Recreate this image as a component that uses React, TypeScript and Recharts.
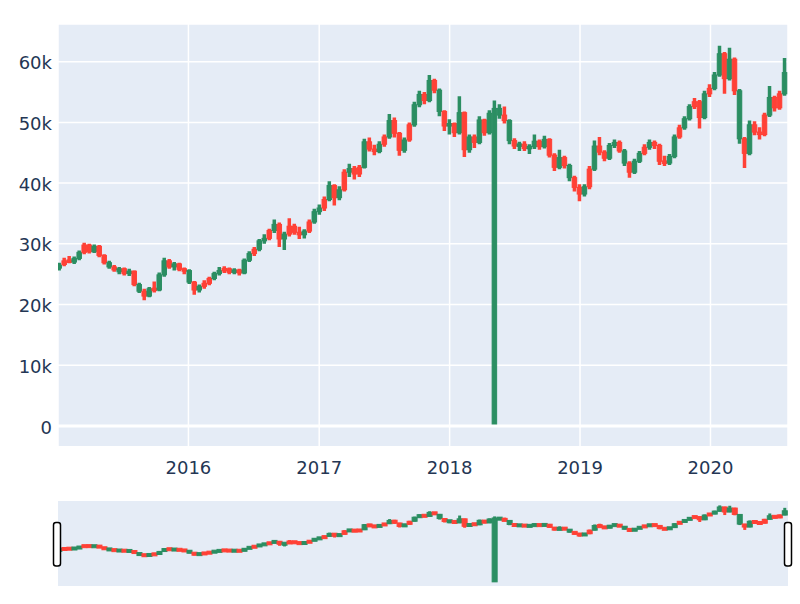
import React from 'react';
import { ComposedChart, Bar, XAxis, YAxis, CartesianGrid, ReferenceLine } from 'recharts';

// Biweekly candles starting 2015-01-05 (values in thousands)
const START_DATE = '2015-01-05';
const STEP_DAYS = 14;

const opens = [
  26.0, 27.2, 27.3, 27.0, 27.6, 29.8, 29.8, 28.7, 29.6, 28.1,
  26.2, 26.2, 25.4, 25.9, 25.1, 25.5, 22.2, 22.2, 21.4, 22.6,
  22.4, 24.9, 27.2, 26.2, 26.7, 25.8, 23.7, 23.7, 22.4, 23.5,
  24.3, 24.3, 25.1, 25.9, 25.9, 25.3, 25.7, 25.2, 27.3, 29.1,
  29.1, 30.5, 32.2, 32.2, 33.2, 30.8, 32.9, 32.9, 31.9, 31.5,
  33.6, 33.6, 35.3, 37.3, 37.3, 39.6, 37.6, 41.8, 41.8, 42.4,
  42.6, 42.6, 46.8, 45.6, 45.2, 47.6, 47.6, 50.3, 48.2, 45.4,
  49.6, 49.6, 52.9, 54.6, 53.6, 56.9, 51.8, 51.8, 49.4, 49.8,
  48.3, 51.6, 45.5, 47.6, 46.7, 50.4, 48.3, 0.0, 51.2, 51.2,
  47.0, 47.0, 46.1, 46.4, 45.7, 46.0, 46.9, 46.0, 47.2, 44.6,
  42.6, 44.2, 40.9, 40.9, 39.3, 38.2, 42.3, 42.3, 46.1, 45.1,
  44.1, 46.2, 46.7, 43.3, 43.3, 41.8, 43.6, 45.9, 45.9, 46.7,
  46.2, 43.6, 43.3, 44.4, 49.1, 49.1, 50.6, 53.4, 53.4, 50.8,
  55.6, 55.6, 57.8, 61.3, 57.2, 60.4, 47.3, 47.3, 44.9, 49.6,
  48.4, 51.2, 51.2, 54.1, 54.7, 54.7,
];
const highs = [
  26.9, 27.7, 28.0, 27.9, 28.9, 30.2, 30.0, 29.9, 29.8, 28.3,
  27.2, 26.5, 26.2, 26.1, 25.9, 25.6, 23.6, 22.6, 22.9, 23.8,
  25.3, 27.7, 27.5, 27.0, 26.9, 26.1, 25.8, 23.9, 23.3, 24.0,
  24.6, 25.4, 26.2, 26.3, 26.1, 26.0, 25.9, 27.6, 28.8, 29.5,
  30.8, 31.6, 32.5, 34.0, 33.5, 32.0, 34.2, 33.3, 32.8, 32.4,
  34.0, 35.8, 36.5, 37.8, 40.3, 39.8, 39.5, 42.3, 43.2, 42.8,
  43.0, 47.3, 47.5, 46.3, 46.9, 48.0, 51.4, 50.8, 48.4, 47.5,
  50.0, 53.4, 55.2, 55.0, 57.8, 57.2, 55.6, 52.0, 50.5, 50.0,
  54.3, 51.8, 48.0, 48.0, 51.0, 50.6, 52.0, 53.6, 53.0, 52.6,
  50.5, 47.4, 46.8, 46.9, 46.4, 48.0, 47.2, 47.8, 47.4, 44.9,
  45.5, 44.5, 43.2, 41.2, 39.8, 39.8, 42.8, 47.0, 47.6, 45.4,
  46.6, 47.2, 47.0, 45.6, 43.6, 44.0, 45.3, 46.4, 47.2, 47.0,
  46.5, 44.5, 44.8, 48.0, 49.6, 51.0, 53.0, 54.0, 53.7, 55.2,
  56.3, 58.3, 62.6, 61.6, 62.3, 60.7, 55.5, 47.6, 50.3, 50.2,
  49.2, 51.6, 56.0, 54.4, 55.2, 60.6,
];
const lows = [
  25.6, 26.3, 26.8, 26.7, 27.3, 28.3, 28.4, 28.5, 27.8, 26.6,
  25.9, 25.4, 25.0, 24.8, 24.7, 23.0, 21.9, 20.7, 21.2, 22.0,
  22.2, 24.6, 25.9, 25.6, 25.5, 25.0, 23.4, 21.6, 22.0, 22.6,
  23.2, 24.0, 24.8, 25.2, 25.0, 25.0, 24.8, 25.0, 27.0, 28.0,
  28.8, 30.0, 30.6, 31.8, 29.5, 29.0, 31.2, 31.5, 30.8, 30.9,
  31.8, 33.3, 34.8, 35.4, 37.0, 36.3, 37.2, 38.6, 41.0, 40.6,
  41.0, 42.4, 45.2, 44.6, 44.9, 46.0, 47.3, 47.5, 44.5, 45.0,
  46.8, 49.3, 52.5, 53.0, 53.3, 54.8, 51.0, 48.6, 48.0, 47.6,
  48.0, 44.3, 45.0, 45.8, 46.4, 47.8, 48.0, 0.0, 50.6, 49.8,
  46.4, 45.6, 45.3, 45.3, 44.8, 45.6, 45.5, 45.7, 44.2, 42.0,
  42.3, 42.4, 40.3, 38.6, 37.0, 37.8, 39.0, 42.0, 44.6, 43.6,
  43.8, 45.8, 45.0, 42.8, 40.9, 41.5, 43.3, 44.6, 45.5, 45.6,
  43.0, 42.8, 43.0, 44.1, 47.3, 48.8, 50.3, 52.2, 49.0, 50.5,
  54.2, 55.3, 57.5, 54.7, 56.9, 54.5, 46.5, 42.5, 44.6, 47.9,
  47.2, 47.7, 50.9, 51.8, 52.1, 54.4,
];
const closes = [
  26.5, 26.6, 27.0, 27.6, 28.6, 28.6, 28.7, 29.6, 28.1, 26.9,
  26.9, 25.7, 25.9, 25.1, 25.5, 23.3, 23.3, 21.4, 22.6, 22.4,
  24.9, 27.2, 26.2, 26.7, 25.8, 25.6, 25.6, 22.4, 23.0, 23.0,
  23.5, 25.1, 25.6, 25.6, 25.3, 25.7, 25.2, 27.3, 28.4, 28.4,
  30.5, 30.9, 30.9, 33.2, 30.8, 31.6, 31.6, 31.9, 31.5, 32.1,
  32.1, 35.3, 35.9, 35.9, 39.6, 37.6, 38.9, 38.9, 42.4, 41.5,
  41.5, 46.8, 45.6, 45.2, 46.4, 46.4, 50.3, 48.2, 45.4, 47.1,
  47.1, 52.9, 54.6, 53.6, 56.9, 55.3, 55.3, 49.4, 49.8, 48.3,
  51.6, 45.5, 47.6, 46.7, 50.4, 48.3, 51.5, 52.3, 52.3, 50.3,
  50.3, 46.1, 46.4, 45.7, 46.0, 46.9, 46.0, 47.2, 44.6, 42.6,
  44.2, 42.9, 42.9, 39.3, 38.2, 39.4, 39.4, 46.1, 45.1, 44.1,
  46.2, 46.7, 45.3, 45.3, 41.8, 43.6, 44.9, 44.9, 46.7, 46.2,
  43.6, 43.3, 44.4, 47.6, 47.6, 50.6, 52.6, 52.6, 50.8, 54.7,
  54.7, 57.8, 61.3, 57.2, 60.4, 55.2, 55.2, 44.9, 49.6, 48.4,
  48.0, 48.0, 54.1, 52.4, 52.4, 58.2,
];

const yearTicks = [2016, 2017, 2018, 2019, 2020];
const yTicks = [0, 10, 20, 30, 40, 50, 60];

const X0 = Date.UTC(2015, 0, 1);
const X1 = Date.UTC(2020, 7, 5);
const Y_DOMAIN: [number, number] = [-3.4, 66.2];

const t0 = Date.parse(START_DATE + 'T00:00:00Z');
const data = closes.map((c, i) => ({
  t: t0 + i * STEP_DAYS * 86400000,
  open: opens[i],
  high: highs[i],
  low: lows[i],
  close: c,
}));

const xTickValues = yearTicks.map((y) => Date.UTC(y, 0, 1));

const INC = '#2B8E62';
const DEC = '#FF4136';
const BG = '#E5ECF6';
const TXT = '#243654';
const FONT = '"DejaVu Sans", Verdana, sans-serif';

const Candle = (props: any) => {
  const { x, y, width, height, payload, wick = 3, minBody = 1 } = props;
  if (payload == null || height == null) return null;
  const { open, close, high, low } = payload;
  const up = close >= open;
  const color = up ? INC : DEC;
  const span = high - low || 1;
  const ratio = height / span;
  const yO = y + (high - open) * ratio;
  const yC = y + (high - close) * ratio;
  const cx = x + width / 2;
  const bh = Math.max(Math.abs(yO - yC), minBody);
  const top = (yO + yC) / 2 - bh / 2;
  return (
    <g>
      <line x1={cx} x2={cx} y1={y} y2={y + height} stroke={color} strokeWidth={wick} />
      <rect x={x} y={top} width={width} height={bh} fill={color} stroke={color} strokeWidth={1} />
    </g>
  );
};

const XTick = (props: any) => {
  const { x, payload } = props;
  return (
    <text x={x} y={473.5} textAnchor="middle" fill={TXT} fontSize={18} fontFamily={FONT}>
      {new Date(payload.value).getUTCFullYear()}
    </text>
  );
};

const YTick = (props: any) => {
  const { y, payload } = props;
  const v = payload.value;
  return (
    <text x={52} y={y + 7.5} textAnchor="end" fill={TXT} fontSize={18} fontFamily={FONT}>
      {v === 0 ? '0' : `${v}k`}
    </text>
  );
};

const rangeKey = (d: any) => [d.low, d.high];

export default function App() {
  return (
    <div style={{ position: 'absolute', left: 0, top: 0, width: 800, height: 604, background: '#fff' }}>
      <div style={{ position: 'absolute', left: 0, top: 0 }}>
        <ComposedChart width={800} height={480} data={data} margin={{ top: 24, right: 12, bottom: 0, left: 0 }}>
          <CartesianGrid fill={BG} stroke="#fff" strokeWidth={1.5} />
          <XAxis
            type="number"
            dataKey="t"
            domain={[X0, X1]}
            ticks={xTickValues}
            allowDataOverflow
            height={33.3}
            axisLine={false}
            tickLine={false}
            tick={<XTick />}
            interval={0}
          />
          <YAxis
            type="number"
            domain={Y_DOMAIN}
            ticks={yTicks}
            allowDataOverflow
            width={58}
            axisLine={false}
            tickLine={false}
            tick={<YTick />}
            interval={0}
          />
          <ReferenceLine y={0} stroke="#fff" strokeWidth={3} />
          <Bar dataKey={rangeKey} barSize={6} shape={(p: any) => <Candle {...p} wick={3.5} minBody={2.5} />} isAnimationActive={false} />
        </ComposedChart>
      </div>
      <div style={{ position: 'absolute', left: 0, top: 501 }}>
        <ComposedChart width={800} height={85} data={data} margin={{ top: 0, right: 12, bottom: 0, left: 58 }}>
          <CartesianGrid fill={BG} horizontal={false} vertical={false} />
          <XAxis type="number" dataKey="t" domain={[X0, X1]} allowDataOverflow hide />
          <YAxis type="number" domain={Y_DOMAIN} allowDataOverflow hide />
          <Bar dataKey={rangeKey} barSize={5} shape={(p: any) => <Candle {...p} wick={3} minBody={3} />} isAnimationActive={false} />
        </ComposedChart>
      </div>
      <svg width={800} height={604} style={{ position: 'absolute', left: 0, top: 0, pointerEvents: 'none' }}>
        <rect x={53.5} y={522.5} width={7} height={43.5} rx={2.5} fill="#fff" stroke="#000" strokeWidth={1.5} />
        <rect x={784.5} y={522.5} width={7} height={43.5} rx={2.5} fill="#fff" stroke="#000" strokeWidth={1.5} />
      </svg>
    </div>
  );
}
